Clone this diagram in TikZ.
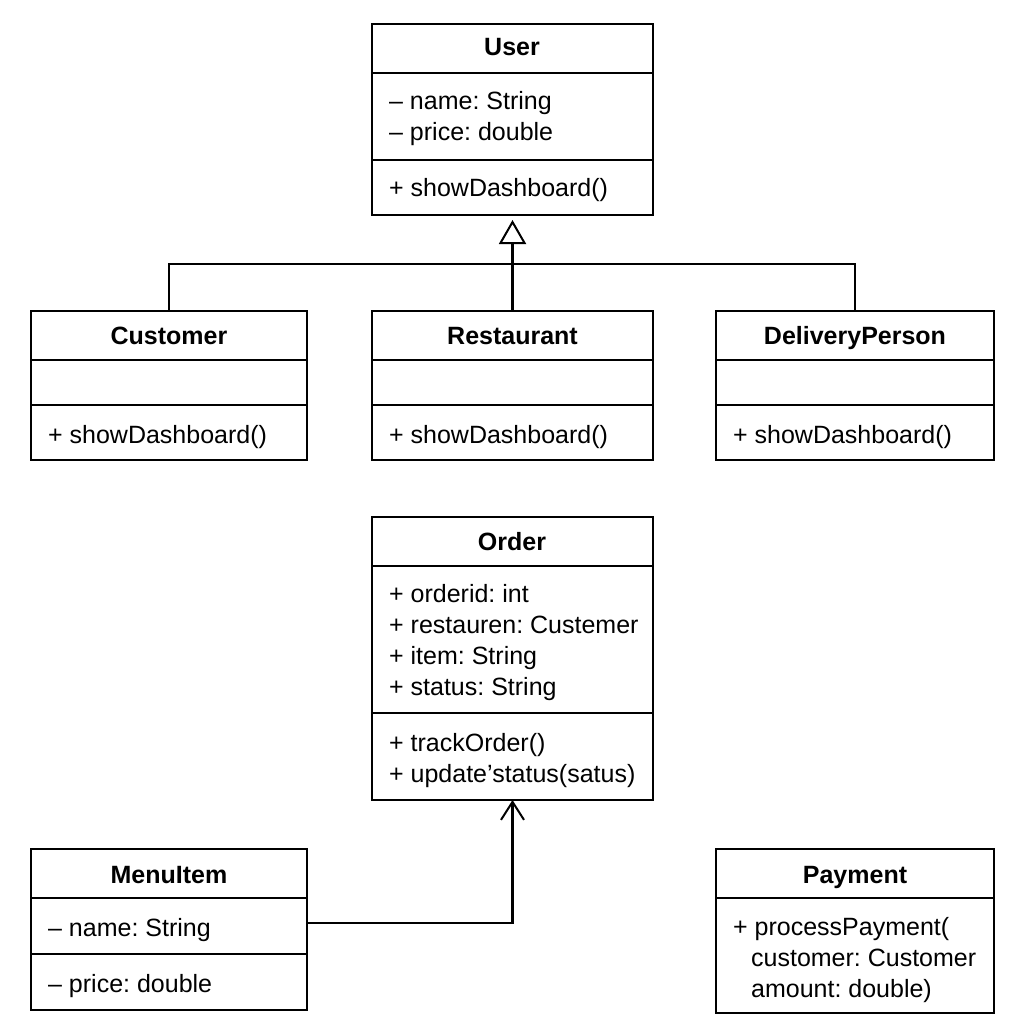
\documentclass[tikz,border=0pt]{standalone}
\usepackage{fontspec}
\setmainfont{Liberation Sans}
\usetikzlibrary{arrows.meta,calc}
\frenchspacing
\begin{document}
\begin{tikzpicture}[x=1pt,y=-1pt,
  line width=2.3pt, line join=miter,
  cls/.style={draw, rectangle, anchor=north west, inner sep=0pt, outer sep=0pt},
  txt/.style={anchor=base west, inner sep=0pt, font=\fontsize{25}{31}\selectfont\frenchspacing},
  ttl/.style={anchor=base, inner sep=0pt, font=\fontsize{25}{31}\selectfont\bfseries},
  inherit/.style={-{Triangle[open,length=24pt,width=27pt,line width=2pt]}, shorten >=5pt},
  assoc/.style={-{Straight Barb[length=18pt,width=23pt,line width=2pt]}}
]
\fill[white] (0,0) rectangle (1024,1024);
\useasboundingbox (0,0) rectangle (1024,1024);

% User
\node[cls, minimum width=281pt, minimum height=191pt] (user) at (372,24) {};
\draw (user.west |- 0,73) -- (user.east |- 0,73);
\draw (user.west |- 0,160) -- (user.east |- 0,160);
\node[ttl] (ut) at (512,56) {User};
\node[txt] (u1) at (388,110) {\textendash{} name: String};
\node[txt] (u2) at (388,141) {\textendash{} price: double};
\node[txt] (u3) at (388,197) {+ showDashboard()};

% Customer
\node[cls, minimum width=276pt, minimum height=149pt] (cust) at (31,311) {};
\draw (cust.west |- 0,360) -- (cust.east |- 0,360);
\draw (cust.west |- 0,405) -- (cust.east |- 0,405);
\node[ttl] (ct) at (cust.north |- 0,344) {Customer};
\node[txt] (c1) at (47,443) {+ showDashboard()};

% Restaurant
\node[cls, minimum width=281pt, minimum height=149pt] (rest) at (372,311) {};
\draw (rest.west |- 0,360) -- (rest.east |- 0,360);
\draw (rest.west |- 0,405) -- (rest.east |- 0,405);
\node[ttl] (rt) at (rest.north |- 0,344) {Restaurant};
\node[txt] (r1) at (388,443) {+ showDashboard()};

% DeliveryPerson
\node[cls, minimum width=278pt, minimum height=149pt] (deliv) at (716,311) {};
\draw (deliv.west |- 0,360) -- (deliv.east |- 0,360);
\draw (deliv.west |- 0,405) -- (deliv.east |- 0,405);
\node[ttl] (dt) at (deliv.north |- 0,344) {DeliveryPerson};
\node[txt] (d1) at (732,443) {+ showDashboard()};

% Inheritance
\coordinate (junc) at (512,264);
\draw (cust.north) |- (junc) -| (deliv.north);
\draw[inherit] (rest.north) -- (user.south);

% Order
\node[cls, minimum width=281pt, minimum height=283pt] (order) at (372,517) {};
\draw (order.west |- 0,566) -- (order.east |- 0,566);
\draw (order.west |- 0,713) -- (order.east |- 0,713);
\node[ttl] (ot) at (512,550) {Order};
\node[txt] (o1) at (388,602) {+ orderid: int};
\node[txt] (o2) at (388,633) {+ restauren: Custemer};
\node[txt] (o3) at (388,664) {+ item: String};
\node[txt] (o4) at (388,695) {+ status: String};
\node[txt] (o5) at (388,751) {+ trackOrder()};
\node[txt] (o6) at (388,782) {+ update'status(satus)};

% MenuItem
\node[cls, minimum width=276pt, minimum height=161pt] (menu) at (31,849) {};
\draw (menu.west |- 0,898) -- (menu.east |- 0,898);
\draw (menu.west |- 0,954) -- (menu.east |- 0,954);
\node[ttl] (mt) at (menu.north |- 0,883) {MenuItem};
\node[txt] (m1) at (47,936) {\textendash{} name: String};
\node[txt] (m2) at (47,992) {\textendash{} price: double};

% Payment
\node[cls, minimum width=278pt, minimum height=164pt] (pay) at (716,849) {};
\draw (pay.west |- 0,898) -- (pay.east |- 0,898);
\node[ttl] (pt) at (pay.north |- 0,883) {Payment};
\node[txt] (p1) at (732,935) {+ processPayment(};
\node[txt] (p2) at (750,966) {customer: Customer};
\node[txt] (p3) at (750,997) {amount: double)};

% Association
\coordinate (mturn) at (0,923);
\draw[assoc] (menu.east |- mturn) -| (order.south);
\end{tikzpicture}
\end{document}
